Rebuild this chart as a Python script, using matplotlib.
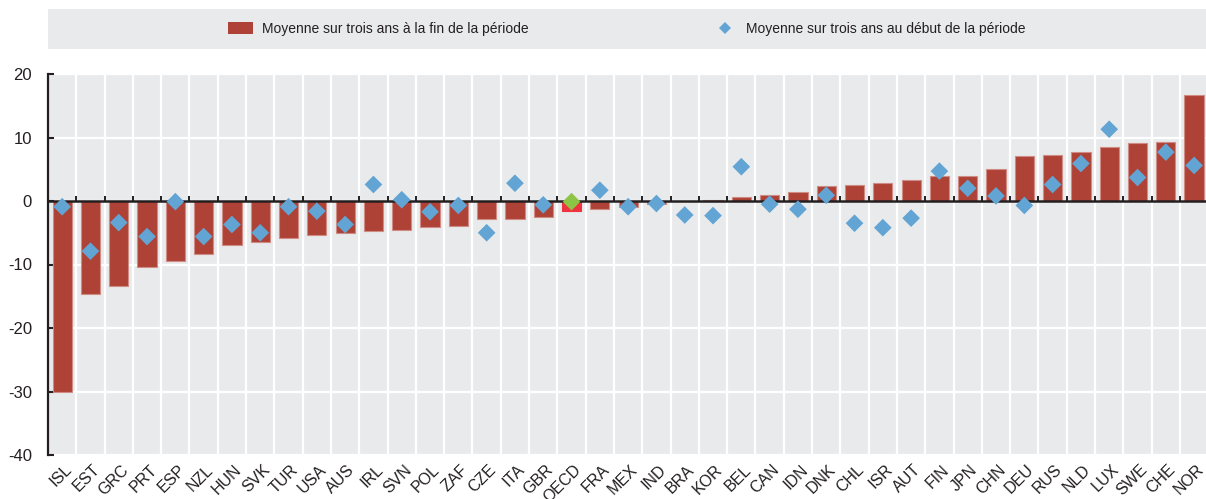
import matplotlib
matplotlib.use("Agg")
import matplotlib.pyplot as plt
import matplotlib.patches as mpatches
from matplotlib.lines import Line2D
from matplotlib.transforms import ScaledTranslation
import numpy as np

countries = ['ISL', 'EST', 'GRC', 'PRT', 'ESP', 'NZL', 'HUN', 'SVK', 'TUR', 'USA', 'AUS',
             'IRL', 'SVN', 'POL', 'ZAF', 'CZE', 'ITA', 'GBR', 'OECD', 'FRA', 'MEX', 'IND',
             'BRA', 'KOR', 'BEL', 'CAN', 'IDN', 'DNK', 'CHL', 'ISR', 'AUT', 'FIN', 'JPN',
             'CHN', 'DEU', 'RUS', 'NLD', 'LUX', 'SWE', 'CHE', 'NOR']
end_avg = [-30.0, -14.6, -13.4, -10.4, -9.4, -8.4, -7.0, -6.5, -5.8, -5.3, -5.1,
           -4.7, -4.5, -4.1, -4.0, -2.9, -2.8, -2.5, -1.5, -1.2, -0.9, -0.5,
           0.0, 0.1, 0.6, 1.0, 1.4, 2.3, 2.5, 2.9, 3.3, 3.9, 4.0,
           5.0, 7.1, 7.2, 7.7, 8.5, 9.1, 9.3, 16.7]
start_avg = [-0.9, -7.9, -3.4, -5.6, -0.1, -5.6, -3.7, -5.0, -0.9, -1.6, -3.7,
             2.6, 0.2, -1.7, -0.7, -5.0, 2.8, -0.6, -0.1, 1.7, -0.9, -0.4,
             -2.2, -2.3, 5.4, -0.5, -1.3, 0.9, -3.5, -4.2, -2.7, 4.7, 2.0,
             0.8, -0.7, 2.6, 5.9, 11.3, 3.7, 7.7, 5.6]
yticks = [20, 10, 0, -10, -20, -30, -40]
legend_labels = ['Moyenne sur trois ans à la fin de la période',
                 'Moyenne sur trois ans au début de la période']

FONT = ['Liberation Sans', 'DejaVu Sans']
plt.rcParams['font.family'] = FONT

BAR = '#AE4236'
BAR_EDGE = '#D08C84'
DIA = '#62A4D3'
OECD_BAR = '#EE3340'
OECD_DIA = '#8CC444'
BG = '#E9EAEC'
INK = '#231F20'

W, H = 1206, 499
fig = plt.figure(figsize=(W / 100, H / 100), dpi=100)
ax = fig.add_axes([48 / W, 44 / H, 1158 / W, 381 / H])
ax.set_facecolor(BG)

x = np.arange(len(countries))
bar_colors = [OECD_BAR if c == 'OECD' else BAR for c in countries]
edge_colors = [OECD_BAR if c == 'OECD' else BAR_EDGE for c in countries]
ax.bar(x, end_avg, width=0.68, color=bar_colors, edgecolor=edge_colors,
       linewidth=0.8, zorder=2)

dia_colors = [OECD_DIA if c == 'OECD' else DIA for c in countries]
ax.scatter(x, start_avg, marker='D', s=9.0 ** 2, c=dia_colors, linewidths=0, zorder=5)

ax.axhline(0, color=INK, lw=1.8, zorder=3)
bounds = x[:-1] + 0.5
ax.vlines(bounds, 0, 0.8, color=INK, lw=1.4, zorder=3)

ax.set_xlim(-0.5, 40.42)
ax.set_ylim(-40, 20)
ax.set_yticks(yticks)
ax.set_yticklabels([str(v) for v in yticks])
ax.set_xticks(x)
ax.set_xticklabels(countries, rotation=45, ha='right', va='top', rotation_mode='anchor')
ax.set_xticks(bounds, minor=True)
ax.grid(which='minor', axis='x', color='white', lw=1.6, zorder=0)
ax.grid(which='major', axis='y', color='white', lw=1.6, zorder=0)
ax.grid(which='major', axis='x', visible=False)
ax.set_axisbelow(True)

for s in ['top', 'right', 'bottom']:
    ax.spines[s].set_visible(False)
ax.spines['left'].set_color(INK)
ax.spines['left'].set_linewidth(1.6)
ax.tick_params(axis='y', direction='in', length=4, width=1.5, color=INK,
               pad=11.5, labelsize=12, labelcolor=INK)
ax.tick_params(axis='x', which='both', length=0, pad=5, labelsize=11.5, labelcolor=INK)
for lab in ax.get_xticklabels():
    lab.set_transform(lab.get_transform() + ScaledTranslation(1.5 / 72, 0, fig.dpi_scale_trans))

# legend band
fig.patches.append(mpatches.Rectangle((48 / W, 1 - 49 / H), 1158 / W, 40 / H,
                                      transform=fig.transFigure, facecolor=BG,
                                      edgecolor='none', zorder=0))
handles = [mpatches.Patch(facecolor=BAR, edgecolor='none'),
           Line2D([], [], marker='D', linestyle='none', markersize=6,
                  markerfacecolor=DIA, markeredgewidth=0)]
fig.legend(handles, legend_labels, loc='center', ncol=2,
           bbox_to_anchor=(627 / W, 1 - 29 / H), frameon=False,
           fontsize=10, handlelength=1.8, handleheight=0.94,
           handletextpad=0.65, columnspacing=13.2, labelcolor=INK)

fig.savefig('out.png', dpi=100, facecolor='white')
